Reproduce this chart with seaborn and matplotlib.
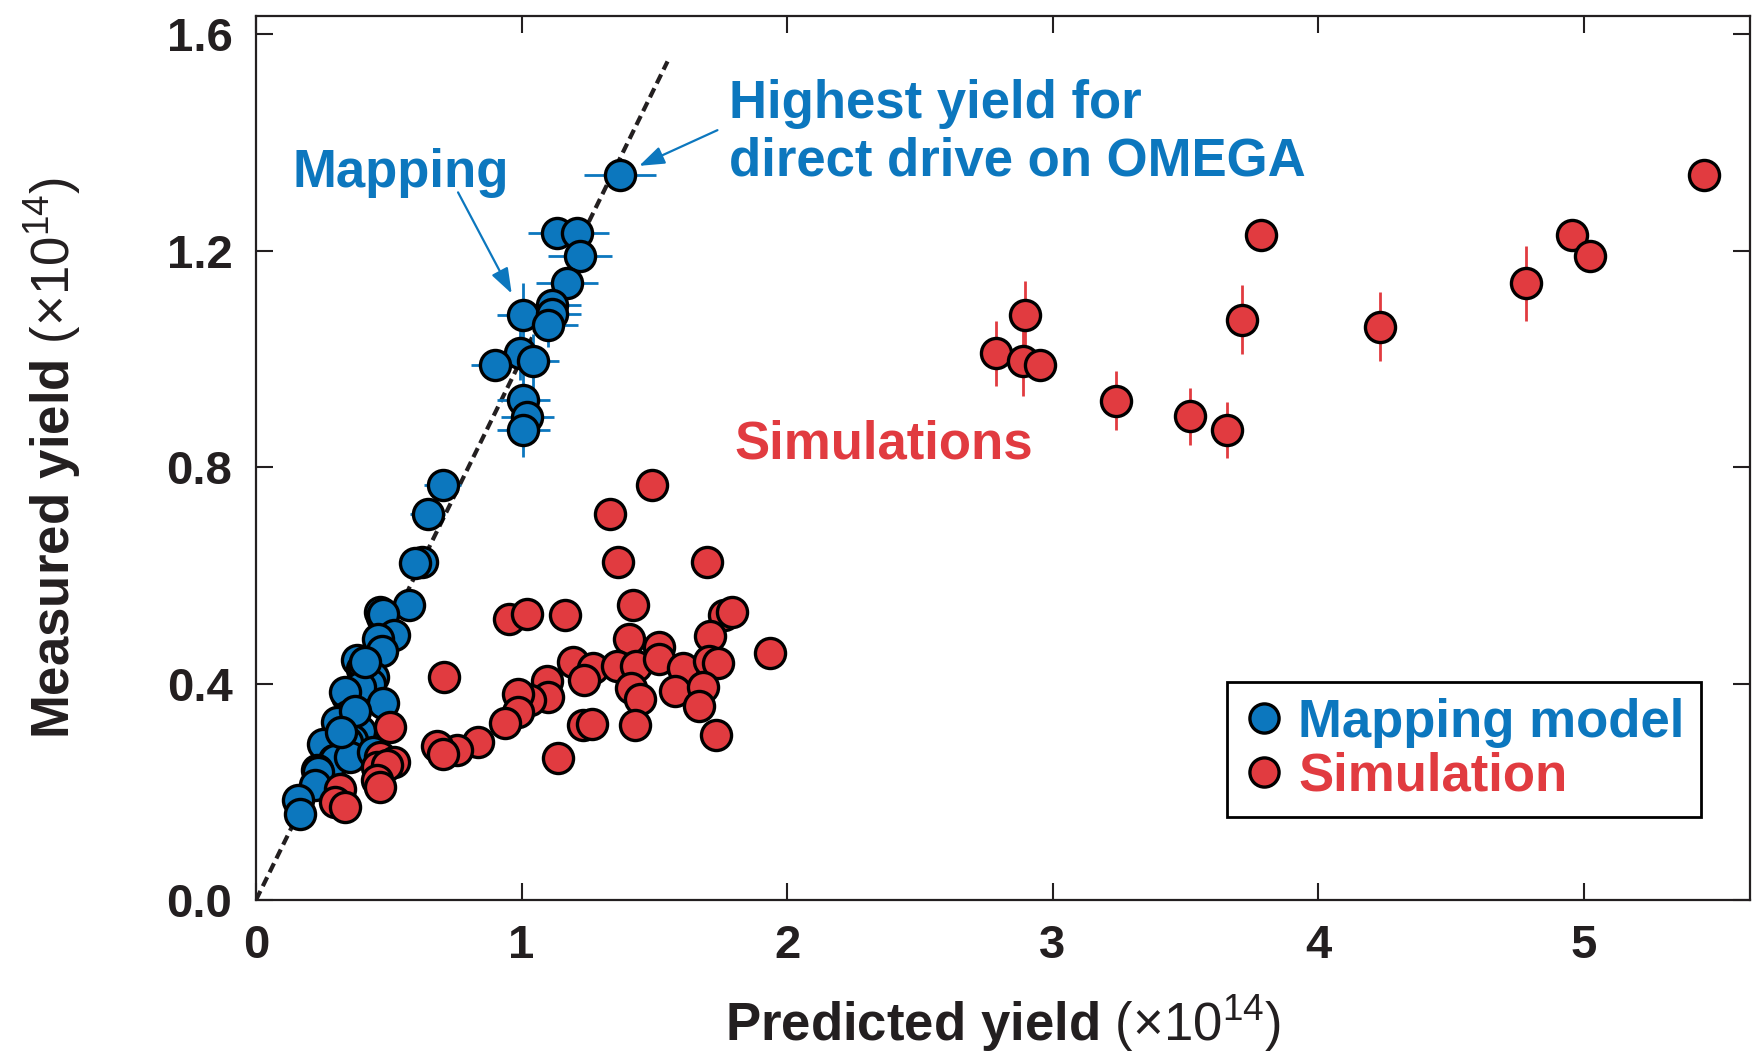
import matplotlib
matplotlib.use("Agg")
import matplotlib.pyplot as plt
import seaborn as sns
from matplotlib.lines import Line2D

# ---------------- data ----------------
map_x = [1.371, 1.133, 1.210, 1.221, 1.171, 1.007, 1.114, 1.114, 1.101, 0.995,
         1.042, 0.901, 1.007, 1.022, 1.007, 0.703, 0.646, 0.624, 0.600, 0.578,
         0.467, 0.474, 0.480, 0.518, 0.461, 0.474, 0.380, 0.398, 0.405, 0.442,
         0.430, 0.342, 0.367, 0.392, 0.336, 0.480, 0.348, 0.304, 0.392, 0.361,
         0.342, 0.254, 0.292, 0.298, 0.229, 0.235, 0.223, 0.160, 0.166, 0.354,
         0.442, 0.410, 0.372, 0.320]
map_y = [1.341, 1.232, 1.232, 1.191, 1.141, 1.081, 1.099, 1.084, 1.062, 1.012,
         0.996, 0.988, 0.925, 0.893, 0.869, 0.768, 0.713, 0.624, 0.622, 0.546,
         0.532, 0.523, 0.528, 0.489, 0.483, 0.461, 0.443, 0.427, 0.430, 0.412,
         0.400, 0.378, 0.363, 0.393, 0.384, 0.364, 0.341, 0.329, 0.313, 0.295,
         0.292, 0.289, 0.258, 0.258, 0.240, 0.236, 0.212, 0.184, 0.159, 0.264,
         0.273, 0.440, 0.350, 0.310]
map_xerr = [0.137, 0.110, 0.120, 0.120, 0.117, 0.100, 0.110, 0.110, 0.110, 0.100,
            0.100, 0.090, 0.100, 0.100, 0.100, 0.070, 0.065, 0.062, 0.060, 0.058,
            0.047, 0.047, 0.048, 0.052, 0.046, 0.047, 0.038, 0.040, 0.040, 0.044,
            0.043, 0.034, 0.037, 0.039, 0.034, 0.048, 0.035, 0.030, 0.039, 0.036,
            0.034, 0.025, 0.029, 0.030, 0.023, 0.024, 0.022, 0.016, 0.017, 0.035,
            0.044, 0.041, 0.037, 0.032]
map_yerr = [0.0, 0.0, 0.0, 0.0, 0.0, 0.060, 0.0, 0.040, 0.040, 0.050,
            0.050, 0.0, 0.050, 0.050, 0.050, 0.0, 0.0, 0.0, 0.0, 0.0,
            0.0, 0.0, 0.0, 0.0, 0.0, 0.0, 0.0, 0.0, 0.0, 0.0,
            0.0, 0.0, 0.0, 0.0, 0.0, 0.0, 0.0, 0.0, 0.0, 0.0,
            0.0, 0.0, 0.0, 0.0, 0.0, 0.0, 0.0, 0.0, 0.0, 0.0,
            0.0, 0.0, 0.0, 0.0]

sim_x = [5.453, 3.785, 4.955, 5.023, 4.782, 3.715, 4.233, 2.895, 2.788, 2.887,
         2.954, 3.240, 3.518, 3.657,
         1.491, 1.335, 1.364, 1.698, 1.420, 0.954, 1.020, 1.162, 1.761, 1.792,
         1.404, 1.516, 1.710, 1.935, 1.194, 1.271, 1.359, 1.432, 1.516, 1.610,
         1.708, 1.739, 1.235, 1.413, 1.447, 1.579, 1.683, 1.670, 1.095, 1.099,
         1.032, 0.986, 0.988, 0.938, 1.231, 1.265, 1.427, 1.732, 1.138, 0.708,
         0.835, 0.756, 0.683, 0.703, 0.505, 0.467, 0.518, 0.455, 0.493, 0.455,
         0.467, 0.317, 0.298, 0.336]
sim_y = [1.341, 1.230, 1.230, 1.191, 1.140, 1.073, 1.060, 1.081, 1.011, 0.996,
         0.988, 0.923, 0.894, 0.869,
         0.768, 0.713, 0.624, 0.624, 0.546, 0.519, 0.529, 0.527, 0.527, 0.532,
         0.482, 0.467, 0.488, 0.456, 0.439, 0.428, 0.432, 0.433, 0.445, 0.428,
         0.441, 0.438, 0.406, 0.391, 0.371, 0.387, 0.394, 0.358, 0.404, 0.375,
         0.370, 0.381, 0.347, 0.327, 0.324, 0.326, 0.324, 0.305, 0.262, 0.412,
         0.292, 0.278, 0.284, 0.270, 0.319, 0.264, 0.255, 0.245, 0.249, 0.221,
         0.208, 0.205, 0.181, 0.171]
sim_yerr = [0.0, 0.0, 0.0, 0.0, 0.069, 0.064, 0.064, 0.064, 0.060, 0.065,
            0.0, 0.055, 0.053, 0.052] + [0.0] * 54

ideal_x = [0.0, 1.55]
ideal_y = [0.0, 1.55]

x_ticks = [0, 1, 2, 3, 4, 5]
x_tick_labels = ["0", "1", "2", "3", "4", "5"]
y_ticks = [0.0, 0.4, 0.8, 1.2, 1.6]
y_tick_labels = ["0.0", "0.4", "0.8", "1.2", "1.6"]

BLUE = "#0C77BE"
RED = "#E13B40"
INK = "#231F20"

# ---------------- style ----------------
sns.set_style("ticks")
plt.rcParams["font.family"] = ["Liberation Sans", "DejaVu Sans"]
plt.rcParams["mathtext.fontset"] = "custom"
plt.rcParams["mathtext.rm"] = "Liberation Sans"
plt.rcParams["mathtext.bf"] = "Liberation Sans:bold"
plt.rcParams["mathtext.it"] = "Liberation Sans:italic"

fig = plt.figure(figsize=(17.52, 10.57), dpi=100)
ax = fig.add_axes([256 / 1752, 1 - 900 / 1057, 1494 / 1752, 884 / 1057])

# ideal line
ax.plot(ideal_x, ideal_y, ls=(0, (2.4, 1.3)), color=INK, lw=3.0, zorder=1.5)

MS = 470
EW = 2.4

# mapping model
ax.errorbar(map_x, map_y, xerr=map_xerr, yerr=map_yerr, fmt="none",
            ecolor=BLUE, elinewidth=2, capsize=0, zorder=2)
sns.scatterplot(x=map_x, y=map_y, s=MS, color=BLUE, edgecolor="black",
                linewidth=EW, ax=ax, zorder=3, legend=False)

# simulations
ax.errorbar(sim_x, sim_y, yerr=sim_yerr, fmt="none", ecolor=RED,
            elinewidth=2, capsize=0, zorder=2)
sns.scatterplot(x=sim_x, y=sim_y, s=MS, color=RED, edgecolor="black",
                linewidth=EW, ax=ax, zorder=4, legend=False)

ax.set_xlim(0, 5.627)
ax.set_ylim(0, 1.634)
ax.set_xticks(x_ticks, x_tick_labels, fontsize=34, fontweight="bold")
ax.set_yticks(y_ticks, y_tick_labels, fontsize=34, fontweight="bold")
ax.tick_params(direction="in", length=12, width=1.5, top=True, right=True,
               pad=17, colors=INK)
for sp in ax.spines.values():
    sp.set_linewidth(1.6)
    sp.set_color(INK)

ax.set_xlabel(r"$\mathbf{Predicted\ yield}$ (×10$^{14}$)", fontsize=38, color=INK)
ax.set_ylabel(r"$\mathbf{Measured\ yield}$ (×10$^{14}$)", fontsize=38, color=INK)
ax.xaxis.set_label_coords(0.5, -0.106)
ax.yaxis.set_label_coords(-0.116, 0.5)

# annotations
ax.text(0.1386, 1.318, "Mapping", color=BLUE, fontsize=38, fontweight="bold",
        ha="left", va="baseline")
ax.annotate("", xy=(0.963, 1.121), xytext=(0.761, 1.308),
            arrowprops=dict(arrowstyle="-|>,head_length=0.7,head_width=0.25",
                            color=BLUE, lw=1.6, mutation_scale=22,
                            shrinkA=0, shrinkB=0))
ax.text(1.780, 1.446, "Highest yield for", color=BLUE, fontsize=38,
        fontweight="bold", ha="left", va="baseline")
ax.text(1.780, 1.339, "direct drive on OMEGA", color=BLUE, fontsize=38,
        fontweight="bold", ha="left", va="baseline")
ax.annotate("", xy=(1.443, 1.357), xytext=(1.738, 1.423),
            arrowprops=dict(arrowstyle="-|>,head_length=0.7,head_width=0.25",
                            color=BLUE, lw=1.6, mutation_scale=22,
                            shrinkA=0, shrinkB=0))
ax.text(1.801, 0.816, "Simulations", color=RED, fontsize=38,
        fontweight="bold", ha="left", va="baseline")

# legend
handles = [
    Line2D([], [], ls="none", marker="o", markersize=21, markerfacecolor=BLUE,
           markeredgecolor="black", markeredgewidth=EW, label="Mapping model"),
    Line2D([], [], ls="none", marker="o", markersize=21, markerfacecolor=RED,
           markeredgecolor="black", markeredgewidth=EW, label="Simulation"),
]
leg = ax.legend(handles=handles, loc="lower right", bbox_to_anchor=(0.967, 0.094),
                borderaxespad=0, frameon=True, fancybox=False, edgecolor="black",
                framealpha=1, prop={"weight": "bold", "size": 38},
                labelcolor=[BLUE, RED], handlelength=0.8, handletextpad=0.25,
                labelspacing=0.06, borderpad=0.3)
leg.get_frame().set_linewidth(2)

fig.savefig("out.png", dpi=100)
